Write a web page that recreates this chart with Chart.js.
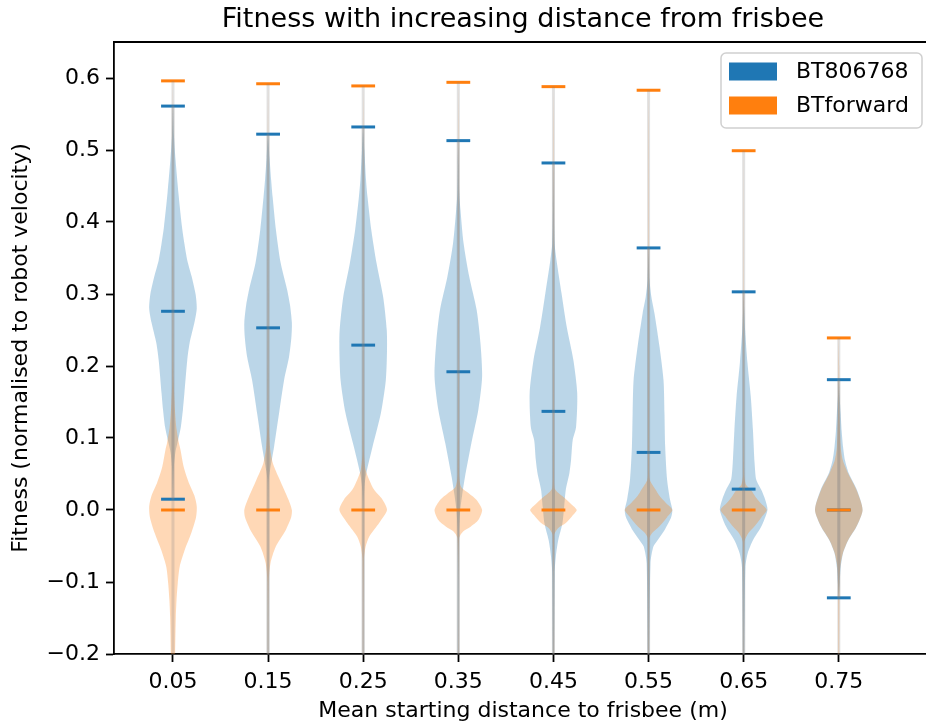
<!DOCTYPE html>
<html>
<head>
  <title>Fitness with increasing distance from frisbee</title>
  <script src="https://cdn.jsdelivr.net/npm/chart.js"></script>
  <style>
    html, body { margin: 0; padding: 0; overflow: hidden; background: #fff; }
  </style>
</head>
<body>
  <canvas id="violinChart" width="940" height="726"></canvas>

  <script>
    // Posiciones (distancia media al frisbee) y marcas del eje y
    var distances = [0.05, 0.15, 0.25, 0.35, 0.45, 0.55, 0.65, 0.75];
    var yTicks = [-0.2, -0.1, 0.0, 0.1, 0.2, 0.3, 0.4, 0.5, 0.6];
    var seriesNames = ['BT806768', 'BTforward'];

    // BT806768: máximo, mediana y mínimo de cada violín
    var btMax = [0.561, 0.522, 0.532, 0.513, 0.482, 0.364, 0.303, 0.181];
    var btMid = [0.276, 0.253, 0.229, 0.192, 0.137, 0.080, 0.029, 0.0];
    var btMin = [0.015, -0.3, -0.3, -0.3, -0.3, -0.3, -0.3, -0.122];

    // BTforward: máximo, mediana y mínimo
    var fwMax = [0.596, 0.592, 0.589, 0.594, 0.588, 0.583, 0.499, 0.239];
    var fwMid = [0.0, 0.0, 0.0, 0.0, 0.0, 0.0, 0.0, 0.0];
    var fwMin = [-0.3, -0.3, -0.3, -0.3, -0.3, -0.3, -0.3, -0.3];

    // Perfil de densidad: [fitness, ancho relativo al punto más ancho]
    var btShape = [
      [[0.03,0.015],[0.06,0.04],[0.08,0.1],[0.095,0.2],[0.115,0.33],[0.14,0.42],[0.162,0.48],[0.208,0.6],[0.232,0.7],[0.26,0.9],[0.28,1.0],[0.30,0.95],[0.325,0.78],[0.347,0.6],[0.37,0.48],[0.393,0.38],[0.44,0.23],[0.486,0.11],[0.52,0.04]],
      [[-0.25,0.015],[0.0,0.015],[0.042,0.03],[0.055,0.08],[0.0875,0.25],[0.134,0.46],[0.18,0.67],[0.2125,0.88],[0.24,0.98],[0.26,1.0],[0.285,0.92],[0.306,0.8],[0.343,0.53],[0.389,0.33],[0.435,0.19],[0.458,0.13],[0.49,0.06]],
      [[-0.25,0.015],[0.0,0.015],[0.032,0.05],[0.051,0.13],[0.0875,0.39],[0.134,0.74],[0.18,0.95],[0.22,1.0],[0.25,0.99],[0.296,0.84],[0.343,0.56],[0.389,0.34],[0.435,0.18],[0.458,0.12],[0.5,0.05]],
      [[-0.25,0.015],[-0.03,0.03],[0.0,0.08],[0.023,0.17],[0.046,0.28],[0.093,0.55],[0.139,0.84],[0.185,1.0],[0.232,0.93],[0.278,0.77],[0.324,0.46],[0.371,0.22],[0.417,0.09],[0.44,0.04],[0.48,0.02]],
      [[-0.25,0.015],[-0.088,0.05],[-0.065,0.1],[-0.042,0.2],[-0.018,0.38],[0.004,0.45],[0.028,0.52],[0.051,0.67],[0.069,0.74],[0.097,0.81],[0.115,0.95],[0.162,1.0],[0.208,0.84],[0.254,0.56],[0.301,0.34],[0.347,0.13],[0.37,0.05],[0.42,0.02]],
      [[-0.25,0.015],[-0.074,0.08],[-0.051,0.2],[-0.042,0.38],[-0.028,0.67],[-0.01,0.95],[0.0,1.0],[0.015,0.9],[0.042,0.78],[0.0875,0.7],[0.134,0.67],[0.18,0.63],[0.227,0.46],[0.273,0.25],[0.296,0.12],[0.32,0.04]],
      [[-0.25,0.015],[-0.08,0.07],[-0.06,0.17],[-0.042,0.39],[-0.023,0.74],[0.0,1.0],[0.015,0.9],[0.028,0.74],[0.042,0.53],[0.065,0.46],[0.111,0.39],[0.157,0.3],[0.204,0.16],[0.25,0.06],[0.28,0.02]],
      [[-0.1,0.04],[-0.08,0.08],[-0.06,0.18],[-0.042,0.4],[-0.023,0.75],[0.0,1.0],[0.028,0.76],[0.051,0.42],[0.069,0.26],[0.0875,0.18],[0.11,0.12],[0.134,0.08],[0.16,0.03]]
    ];

    var fwShape = [
      [[-0.28,0.05],[-0.2,0.09],[-0.148,0.12],[-0.125,0.15],[-0.102,0.2],[-0.079,0.28],[-0.056,0.49],[-0.032,0.77],[-0.01,0.97],[0.005,1.0],[0.02,0.9],[0.0375,0.67],[0.06,0.45],[0.083,0.32],[0.093,0.25],[0.115,0.14],[0.14,0.08],[0.18,0.03],[0.3,0.015],[0.5,0.01]],
      [[-0.25,0.015],[-0.1,0.03],[-0.074,0.1],[-0.051,0.32],[-0.028,0.74],[-0.01,0.97],[0.0,1.0],[0.015,0.85],[0.042,0.49],[0.065,0.2],[0.0875,0.08],[0.12,0.03],[0.3,0.015],[0.5,0.01]],
      [[-0.25,0.015],[-0.07,0.03],[-0.051,0.1],[-0.037,0.25],[-0.018,0.67],[0.0,1.0],[0.015,0.8],[0.028,0.46],[0.042,0.25],[0.056,0.1],[0.08,0.03],[0.3,0.015],[0.5,0.01]],
      [[-0.25,0.015],[-0.04,0.03],[-0.03,0.2],[-0.023,0.53],[-0.014,0.84],[0.0,1.0],[0.014,0.77],[0.023,0.45],[0.032,0.12],[0.05,0.03],[0.3,0.015],[0.5,0.01]],
      [[-0.25,0.015],[-0.035,0.03],[-0.025,0.2],[-0.018,0.52],[-0.008,0.8],[0.0,0.98],[0.008,0.75],[0.018,0.42],[0.024,0.2],[0.03,0.05],[0.05,0.02],[0.3,0.015],[0.5,0.01]],
      [[-0.25,0.015],[-0.04,0.03],[-0.032,0.15],[-0.023,0.45],[-0.01,0.78],[0.0,1.0],[0.01,0.72],[0.02,0.45],[0.028,0.3],[0.042,0.05],[0.06,0.02],[0.3,0.015],[0.5,0.01]],
      [[-0.25,0.015],[-0.045,0.03],[-0.032,0.2],[-0.023,0.45],[-0.01,0.75],[0.0,0.97],[0.01,0.7],[0.018,0.5],[0.028,0.3],[0.035,0.1],[0.05,0.02],[0.3,0.015]],
      [[-0.25,0.015],[-0.1,0.03],[-0.079,0.06],[-0.06,0.17],[-0.042,0.39],[-0.023,0.74],[0.0,1.0],[0.028,0.74],[0.051,0.39],[0.069,0.17],[0.0875,0.08],[0.134,0.03],[0.2,0.015]]
    ];

    var BLUE = '#1f77b4';
    var ORANGE = '#ff7f0e';
    var violinHalf = 0.025;   // medio ancho máximo del violín (unidades de x)
    var capHalf = 0.0125;     // medio ancho de las líneas horizontales

    // Contorno cerrado del violín: sube por la derecha y baja por la izquierda
    function violinPoints(pos, lo, hi, shape) {
      var right = [{x: pos, y: lo}];
      shape.forEach(function(p) { right.push({x: pos + p[1] * violinHalf, y: p[0]}); });
      right.push({x: pos, y: hi});
      var left = right.slice(1, -1).reverse().map(function(p) { return {x: 2 * pos - p.x, y: p.y}; });
      return right.concat(left, [{x: pos, y: lo}]);
    }

    function segment(points, color, order) {
      return {
        data: points, showLine: true, pointRadius: 0, fill: false,
        borderColor: color, borderWidth: 3, borderCapStyle: 'butt', order: order
      };
    }

    var datasets = [];
    function addSeries(color, fillColor, maxs, mids, mins, shapes, bodyOrder, lineOrder) {
      distances.forEach(function(d, i) {
        datasets.push({
          data: violinPoints(d, mins[i], maxs[i], shapes[i]),
          showLine: true, pointRadius: 0, tension: 0.25,
          fill: 'shape', backgroundColor: fillColor,
          borderColor: 'transparent', borderWidth: 1, order: bodyOrder
        });
        datasets.push(segment([{x: d, y: mins[i]}, {x: d, y: maxs[i]}], 'rgba(128,128,128,0.24)', lineOrder));
        [maxs[i], mids[i], mins[i]].forEach(function(v) {
          datasets.push(segment([{x: d - capHalf, y: v}, {x: d + capHalf, y: v}], color, lineOrder));
        });
      });
    }
    addSeries(BLUE, 'rgba(31,119,180,0.3)', btMax, btMid, btMin, btShape, 4, 2);
    addSeries(ORANGE, 'rgba(255,127,14,0.3)', fwMax, fwMid, fwMin, fwShape, 3, 1);

    function fmt(v, digits) {
      var s = Math.abs(v).toFixed(digits);
      return v < -1e-9 ? '\u2212' + s : s;
    }

    // Título, marco superior/derecho y leyenda dibujados a mano
    var framePlugin = {
      id: 'frame',
      afterDraw: function(chart) {
        var ctx = chart.ctx, a = chart.chartArea;
        ctx.save();
        ctx.strokeStyle = '#000';
        ctx.lineWidth = 1.8;
        ctx.beginPath();
        ctx.moveTo(a.left, a.top); ctx.lineTo(a.right, a.top); ctx.lineTo(a.right, a.bottom);
        ctx.stroke();

        ctx.fillStyle = '#000';
        ctx.font = '27px "DejaVu Sans"';
        ctx.textAlign = 'center';
        ctx.textBaseline = 'alphabetic';
        ctx.fillText('Fitness with increasing distance from frisbee', (a.left + a.right) / 2, a.top - 15);

        // leyenda
        var w = 201, h = 75, bx = a.right - 10 - w, by = a.top + 11;
        ctx.beginPath();
        ctx.roundRect(bx, by, w, h, 5);
        ctx.fillStyle = 'rgba(255,255,255,0.8)';
        ctx.fill();
        ctx.strokeStyle = '#d0d0d0';
        ctx.lineWidth = 1.5;
        ctx.stroke();
        [BLUE, ORANGE].forEach(function(c, k) {
          var cy = by + 18.5 + k * 34;
          ctx.fillStyle = c;
          ctx.fillRect(bx + 8, cy - 9, 48, 18);
          ctx.fillStyle = '#000';
          ctx.font = '22px "DejaVu Sans"';
          ctx.textAlign = 'left';
          ctx.textBaseline = 'middle';
          ctx.fillText(seriesNames[k], bx + 75, cy + 1);
        });
        ctx.restore();
      }
    };

    Chart.defaults.font.family = '"DejaVu Sans"';
    Chart.defaults.color = '#000';

    var ctx = document.getElementById('violinChart').getContext('2d');
    var myChart = new Chart(ctx, {
      type: 'scatter',
      data: { datasets: datasets },
      plugins: [framePlugin],
      options: {
        responsive: false,
        animation: false,
        events: [],
        layout: { padding: { top: 42, right: 8, left: 0, bottom: 0 } },
        plugins: { legend: { display: false }, tooltip: { enabled: false }, title: { display: false } },
        scales: {
          x: {
            type: 'linear', min: -0.012, max: 0.848,
            afterBuildTicks: function(scale) { scale.ticks = distances.map(function(v) { return {value: v}; }); },
            afterFit: function(scale) { scale.height = 72; },
            ticks: { autoSkip: false, maxRotation: 0, padding: 7, font: { size: 22 }, callback: function(v) { return fmt(v, 2); } },
            grid: { display: true, drawOnChartArea: false, drawTicks: true, tickLength: 8, tickWidth: 1.8, tickColor: '#000' },
            border: { display: true, color: '#000', width: 1.8 },
            title: { display: true, text: 'Mean starting distance to frisbee (m)', font: { size: 22 }, padding: { top: 2, bottom: 2 } }
          },
          y: {
            type: 'linear', min: -0.2, max: 0.65,
            afterBuildTicks: function(scale) { scale.ticks = yTicks.map(function(v) { return {value: v}; }); },
            afterFit: function(scale) { scale.width = 114; },
            ticks: { padding: 6, font: { size: 22 }, callback: function(v) { return fmt(v, 1); } },
            grid: { display: true, drawOnChartArea: false, drawTicks: true, tickLength: 8, tickWidth: 1.8, tickColor: '#000' },
            border: { display: true, color: '#000', width: 1.8 },
            title: { display: true, text: 'Fitness (normalised to robot velocity)', font: { size: 22 }, padding: { top: 8, bottom: 2 } }
          }
        }
      }
    });
  </script>
</body>
</html>
